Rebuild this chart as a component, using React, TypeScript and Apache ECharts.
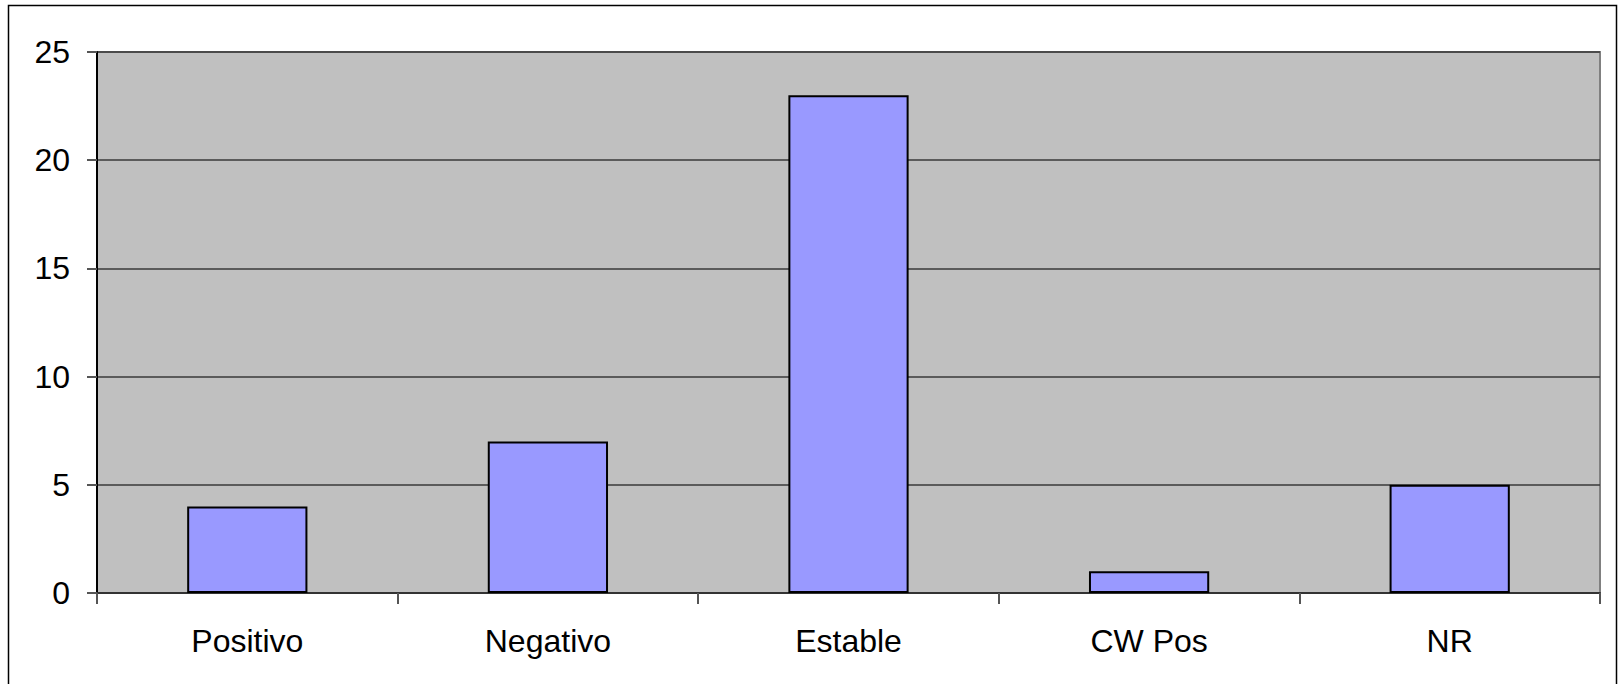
import React, { useEffect, useRef } from "react";
import * as echarts from "echarts";

const categories = ["Positivo", "Negativo", "Estable", "CW Pos", "NR"];
const values = [4, 7, 23, 1, 5];

export default function App() {
  const ref = useRef<HTMLDivElement>(null);
  useEffect(() => {
    const chart = echarts.init(ref.current!, null, { renderer: "svg" });
    chart.setOption({
      animation: false,
      backgroundColor: "#ffffff",
      graphic: [
        {
          type: "rect",
          shape: { x: 8.5, y: 5.5, width: 1608, height: 690 },
          style: { fill: "none", stroke: "#000", lineWidth: 1.5 },
          z: 100,
        },
      ],
      grid: {
        left: 97,
        top: 52,
        right: 20,
        bottom: 91,
        show: true,
        backgroundColor: "#C0C0C0",
        borderColor: "#808080",
        borderWidth: 2,
      },
      xAxis: {
        type: "category",
        data: categories,
        axisLine: { lineStyle: { color: "#333", width: 2 } },
        axisTick: { show: true, length: 11, lineStyle: { color: "#555", width: 2 } },
        axisLabel: {
          color: "#000",
          fontSize: 32,
          fontFamily: "Liberation Sans, Arial, sans-serif",
          margin: 32,
        },
      },
      yAxis: {
        type: "value",
        min: 0,
        max: 25,
        interval: 5,
        axisLine: { show: true, lineStyle: { color: "#000", width: 2 } },
        axisTick: { show: true, length: 10, lineStyle: { color: "#555", width: 2 } },
        splitLine: { show: true, lineStyle: { color: "#3a3a3a", width: 1.5 } },
        axisLabel: {
          color: "#000",
          fontSize: 32,
          fontFamily: "Liberation Sans, Arial, sans-serif",
          margin: 27,
        },
      },
      series: [
        {
          type: "bar",
          data: values,
          barWidth: "40%",
          itemStyle: { color: "#9999FF", borderColor: "#000", borderWidth: 2 },
        },
      ],
    });
    return () => chart.dispose();
  }, []);
  return (
    <div
      ref={ref}
      style={{ position: "fixed", left: 0, top: 0, width: 1620, height: 684 }}
    />
  );
}
